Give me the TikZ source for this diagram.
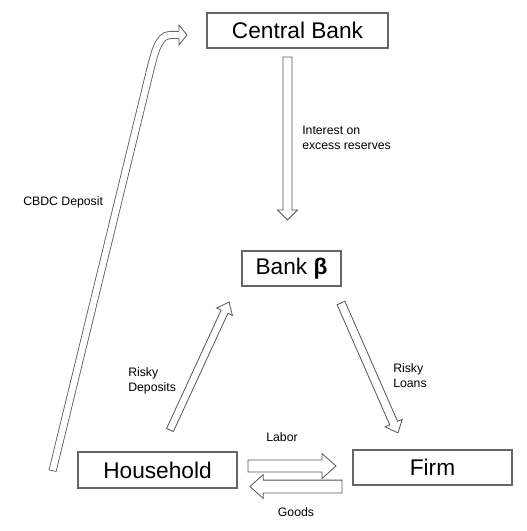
\documentclass[tikz,border=0pt]{standalone}
\usepackage{fontspec}
\setmainfont{Liberation Sans}
\usepackage{xcolor}
\usetikzlibrary{calc}

\definecolor{boxgray}{HTML}{666666}
\definecolor{arrowgray}{HTML}{555555}

\tikzset{
  agent/.style={draw=boxgray, line width=0.9pt, minimum height=26.25pt,
    inner sep=0pt, font=\fontsize{17}{20}\selectfont},
  flowlabel/.style={anchor=west, align=left, inner sep=0pt,
    font=\fontsize{9.2}{11.25}\selectfont},
  flowline/.style={draw=arrowgray, line width=0.6pt, fill=white, line join=miter},
}

% hollow block arrow: start, end, half shaft, half head, head length
\newcommand{\hollowarrow}[5]{%
  \draw[flowline] let \p1=($(#2)-(#1)$), \n1={veclen(\x1,\y1)}, \n2={atan2(\y1,\x1)} in
    {[shift={(#1)}, rotate=\n2]
    (0pt,-#3) -- ({\n1-#5},-#3) -- ({\n1-#5},-#4) -- ({\n1+0pt},0pt)
    -- ({\n1-#5},#4) -- ({\n1-#5},#3) -- (0pt,#3) -- cycle};
}

\begin{document}
\begin{tikzpicture}[x=0.75pt, y=-0.75pt]
        \useasboundingbox (0,0) rectangle (526,531);

        % Agents
        \node[agent, minimum width=135.75pt] (cb) at (297.5,30.5) {Central Bank};
        \node[agent, minimum width=74.25pt] (bank) at (291.5,268.5) {Bank \textbf{β}};
        \node[agent, minimum width=119.25pt, minimum height=27pt] (hh) at (157.5,470) {Household};
        \node[agent, minimum width=119.25pt] (firm) at (432.5,467.5) {Firm};

        % Arrow ends
        \coordinate (ior-s) at (287.5,57);
        \coordinate (ior-e) at (287.5,220);
        \coordinate (dep-s) at (170,430);
        \coordinate (dep-e) at (229,302);
        \coordinate (loan-s) at (341,303);
        \coordinate (loan-e) at (398,433);
        \coordinate (labor-s) at (248,466);
        \coordinate (labor-e) at (336,466);
        \coordinate (goods-s) at (342,486.5);
        \coordinate (goods-e) at (250,486.5);
        \coordinate (cbdc-s) at (52.5,471);
        \coordinate (cbdc-e) at (179,35);

        % Flows
        \hollowarrow{ior-s}{ior-e}{3.4pt}{7.5pt}{7.5pt}
        \hollowarrow{dep-s}{dep-e}{2.8pt}{6.5pt}{8pt}
        \hollowarrow{loan-s}{loan-e}{3.2pt}{7pt}{8pt}
        \hollowarrow{labor-s}{labor-e}{4.5pt}{9.4pt}{10.5pt}
        \hollowarrow{goods-s}{goods-e}{4.8pt}{9pt}{10pt}

        % CBDC deposit, bent at the top
        \draw[line width=6pt, arrowgray] (cbdc-s) -- (149,75)
          .. controls (154,55) and (158,35) .. (170,35) -- (cbdc-e);
        \draw[line width=4.8pt, white, shorten <=0.6pt] (cbdc-s) -- (149,75)
          .. controls (154,55) and (158,35) .. (170,35) -- (cbdc-e);
        \draw[flowline, fill=none] ($(cbdc-e)+(0,-4)$) -- ($(cbdc-e)+(0,-10)$)
          -- ($(cbdc-e)+(8,0)$) -- ($(cbdc-e)+(0,10)$) -- ($(cbdc-e)+(0,4)$);

        % Labels
        \node[flowlabel] (ior-l) at (302,137.5) {Interest on\\excess reserves};
        \node[flowlabel] (loan-l) at (393,375.5) {Risky\\Loans};
        \node[flowlabel] (dep-l) at (128,381) {Risky\\Deposits};
        \node[flowlabel] (cbdc-l) at (23,202) {CBDC Deposit};
        \node[flowlabel, anchor=center] (labor-l) at (282,437) {Labor};
        \node[flowlabel, anchor=center] (goods-l) at (296,512) {Goods};

    \end{tikzpicture}
\end{document}
